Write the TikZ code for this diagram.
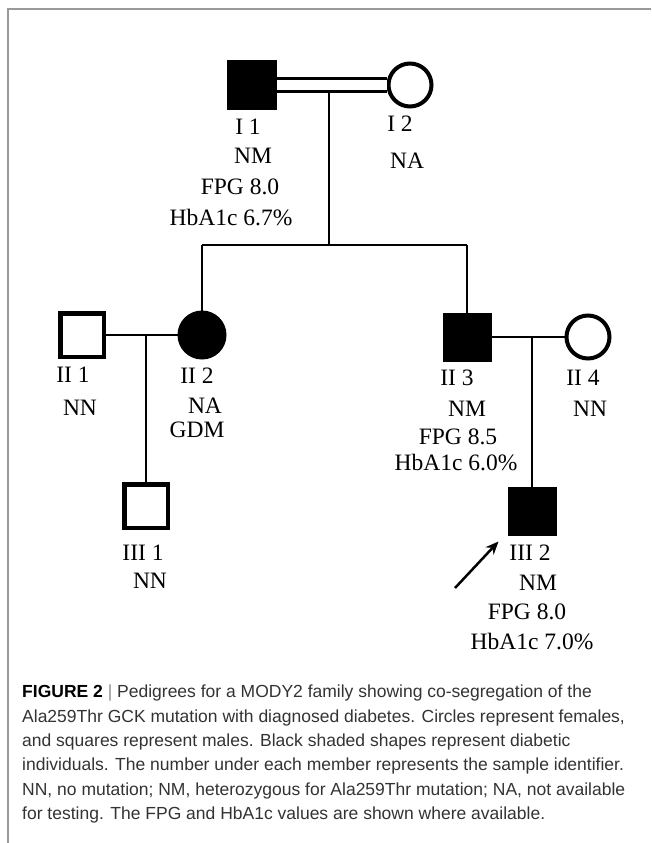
\documentclass[tikz,border=0pt]{standalone}
\usepackage{fontspec}
\setmainfont{Liberation Serif}
\newfontfamily\capfont{Liberation Sans}
\usepackage{xcolor}
\usetikzlibrary{arrows.meta,calc}

\begin{document}
\begin{tikzpicture}[x=1pt, y=-1pt, >=Stealth,
    lab/.style={font=\fontsize{23.5}{26}\selectfont, inner sep=0pt},
    male/.style={draw, rectangle, line width=4.5pt, minimum size=43.5pt, inner sep=0pt, fill=white},
    female/.style={draw, circle, line width=4pt, minimum size=43pt, inner sep=0pt, fill=white},
    malea/.style={draw, rectangle, fill=black, line width=1pt, minimum size=48pt, inner sep=0pt},
    femalea/.style={draw, circle, fill=black, line width=1pt, minimum size=48pt, inner sep=0pt},
    link/.style={line width=2.2pt}]
  \useasboundingbox (0,0) rectangle (651,843);
  \draw[black!40, line width=1.3pt] (8,843) -- (8,9) -- (651,9);

  % generation I
  \node[malea, minimum size=49pt] (I1) at (252,85) {};
  \node[female] (I2) at (410,85) {};
  \draw[double, double distance=10.5pt, line width=2.4pt] (I1) -- (I2);
  \coordinate (mI) at (329,91);
  \coordinate (sM) at (329,245);

  \node[lab] (I1id) at (248,127) {I 1};
  \node[lab] (I1gt) at (253,156) {NM};
  \node[lab] (I1fpg) at (240,187) {FPG 8.0};
  \node[lab] (I1hb) at (231,218) {HbA1c 6.7\%};
  \node[lab] (I2id) at (400,124) {I 2};
  \node[lab] (I2gt) at (407,161) {NA};

  % generation II
  \node[male] (II1) at (82,335) {};
  \node[femalea] (II2) at (202,335) {};
  \node[malea] (II3) at (467,337) {};
  \node[female] (II4) at (588,337) {};
  \coordinate (sL) at (II2 |- sM);
  \coordinate (sR) at (II3 |- sM);

  \draw[link] (mI) -- (sM);
  \draw[link] (sL) -- (sR);
  \draw[link] (sL) -- (II2);
  \draw[link] (sR) -- (II3);
  \draw[link] (II1) -- (II2);
  \draw[link] (II3) -- (II4);

  \node[lab] (II1id) at (73,375) {II 1};
  \node[lab] (II1gt) at (80,408) {NN};
  \node[lab] (II2id) at (197,376) {II 2};
  \node[lab] (II2gt) at (205,406) {NA};
  \node[lab] (II2dx) at (197,430) {GDM};
  \node[lab] (II3id) at (457,378) {II 3};
  \node[lab] (II3gt) at (467,409) {NM};
  \node[lab] (II3fpg) at (458,437) {FPG 8.5};
  \node[lab] (II3hb) at (456,463) {HbA1c 6.0\%};
  \node[lab] (II4id) at (583,378) {II 4};
  \node[lab] (II4gt) at (590,409) {NN};

  % generation III
  \node[male] (III1) at (146,506) {};
  \node[malea] (III2) at (532,511) {};
  \coordinate (mIIa) at (III1 |- II1);
  \coordinate (mIIb) at (III2 |- II3);
  \draw[link] (mIIa) -- (III1);
  \draw[link] (mIIb) -- (III2);

  \node[lab] (III1id) at (143,553) {III 1};
  \node[lab] (III1gt) at (150,581) {NN};
  \node[lab] (III2id) at (530,553) {III 2};
  \node[lab] (III2gt) at (538,583) {NM};
  \node[lab] (III2fpg) at (527,612) {FPG 8.0};
  \node[lab] (III2hb) at (532,642) {HbA1c 7.0\%};

  % proband
  \coordinate (prb) at (455,588);
  \draw[->, line width=2.5pt, -{Stealth[length=13pt, width=11pt]}] (prb) -- ($(III2.south west)+(-9,6)$);

  % caption
  \node[anchor=north west, inner sep=0pt, align=left, text=black!80,
        font=\capfont\fontsize{17.5}{24.3}\selectfont] (cap) at (22,685)
    {{\bfseries\color{black}FIGURE 2} {\color{black!45}|} Pedigrees for a MODY2 family showing co-segregation of the\\
     Ala259Thr GCK mutation with diagnosed diabetes. Circles represent females,\\
     and squares represent males. Black shaded shapes represent diabetic\\
     individuals. The number under each member represents the sample identifier.\\
     NN, no mutation; NM, heterozygous for Ala259Thr mutation; NA, not available\\
     for testing. The FPG and HbA1c values are shown where available.};
\end{tikzpicture}
\end{document}
